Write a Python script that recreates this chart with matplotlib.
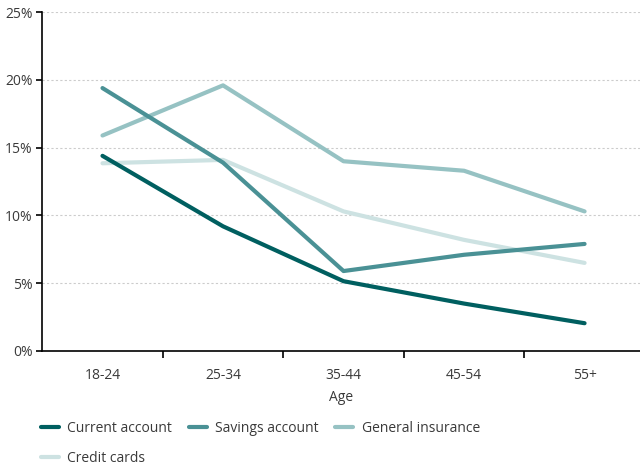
import matplotlib
matplotlib.use("Agg")
import matplotlib.pyplot as plt
from matplotlib.ticker import FuncFormatter

ages = ["18-24", "25-34", "35-44", "45-54", "55+"]
current_account = [14.4, 9.2, 5.15, 3.5, 2.05]
savings_account = [19.4, 13.9, 5.9, 7.1, 7.9]
general_insurance = [15.9, 19.6, 14.0, 13.3, 10.3]
credit_cards = [13.85, 14.1, 10.3, 8.2, 6.5]

plt.rcParams["font.family"] = ["Open Sans", "DejaVu Sans"]
TXT = "#3a3a3a"

fig = plt.figure(figsize=(6.4, 4.68), dpi=100)
ax = fig.add_axes([0.066, 0.25, 0.934, 0.724])

x = range(len(ages))
series = [
    ("Current account", current_account, "#005f60"),
    ("Savings account", savings_account, "#4a9195"),
    ("General insurance", general_insurance, "#96c2c3"),
    ("Credit cards", credit_cards, "#cde2e2"),
]
lines = {}
# draw light ones first so darker lines sit on top
for label, vals, col in reversed(series):
    lines[label], = ax.plot(x, vals, color=col, lw=3, label=label, solid_capstyle="round")

ax.set_xlim(-0.5, 4.46)
ax.set_ylim(0, 25)
ax.set_yticks([0, 5, 10, 15, 20, 25])
ax.yaxis.set_major_formatter(FuncFormatter(lambda v, p: f"{v:.0f}%"))
ax.set_xticks(list(x))
ax.set_xticklabels(ages)
ax.set_xticks([0.5, 1.5, 2.5, 3.5], minor=True)
ax.tick_params(axis="x", which="major", length=0, pad=12, labelsize=10, labelcolor=TXT)
ax.tick_params(axis="x", which="minor", length=5, width=1.2, color="black")
ax.tick_params(axis="y", length=4, width=1.2, pad=3, labelsize=10, labelcolor=TXT)
ax.grid(axis="y", linestyle=(0, (2, 2)), color="#cccccc", lw=0.8)
ax.set_axisbelow(True)
for s in ["top", "right"]:
    ax.spines[s].set_visible(False)
for s in ["left", "bottom"]:
    ax.spines[s].set_linewidth(1.2)
ax.set_xlabel("Age", fontsize=10, color=TXT, labelpad=5)

# matplotlib fills legend columns first; reorder so rows read left to right
order = ["Current account", "Credit cards", "Savings account", "General insurance"]
fig.legend([lines[k] for k in order], order, ncol=3, loc="upper left",
           bbox_to_anchor=(0.055, 0.112), frameon=False, fontsize=10, labelcolor=TXT,
           handlelength=1.3, handletextpad=0.6, columnspacing=1.2, borderaxespad=0,
           labelspacing=1.05)

fig.savefig("out.png", dpi=100)
